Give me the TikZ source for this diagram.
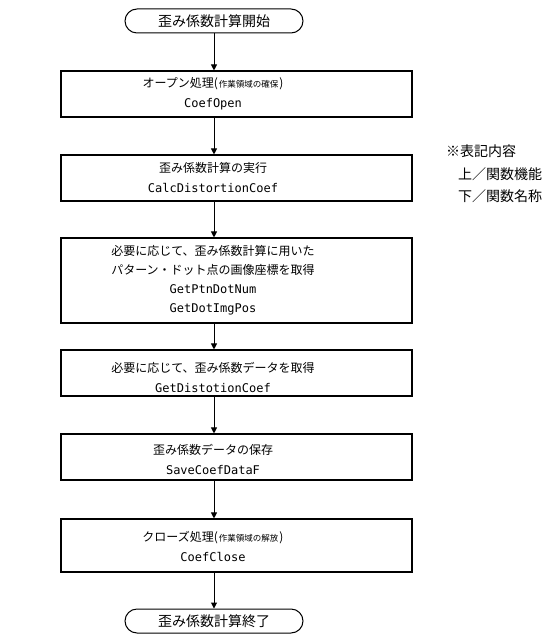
\documentclass[tikz,border=0pt]{standalone}
\usepackage{fontspec}
\setmainfont{Noto Sans CJK JP}
\setmonofont{DejaVu Sans Mono}
\usetikzlibrary{arrows.meta,shapes.misc}
\tikzset{
  term/.style={draw, line width=1pt, rounded rectangle, minimum width=178pt, minimum height=24pt, inner sep=0pt, font=\fontsize{14}{16}\selectfont},
  procbox/.style={draw, line width=1.1pt, rectangle, minimum width=351pt, inner sep=0pt},
  txt/.style={align=center, inner sep=0pt, font=\fontsize{12}{20}\selectfont},
  flow/.style={line width=1pt, -{Triangle[length=6pt,width=6pt]}},
}
\newcommand{\smallp}[1]{(\kern1pt{\fontsize{8.5}{10}\selectfont #1}\kern1pt)}
\newcommand{\code}[1]{{\ttfamily\fontsize{12}{14}\selectfont #1}}
\begin{document}
\begin{tikzpicture}[x=1pt,y=-1pt]
\useasboundingbox (0,0) rectangle (551,644);
\fill[white] (0,0) rectangle (551,644);

\node[term] (s) at (214,21) {歪み係数計算開始};

\node[procbox, minimum height=46pt] (b1) at (236.5,94) {};
\node[txt] (t1) at (213,94) {オープン処理\smallp{作業領域の確保}\\ \code{CoefOpen}};

\node[procbox, minimum height=46pt] (b2) at (236.5,178) {};
\node[txt] (t2) at (213,178) {歪み係数計算の実行\\ \code{CalcDistortionCoef}};

\node[procbox, minimum height=85pt] (b3) at (236.5,280.5) {};
\node[txt, font=\fontsize{12}{19}\selectfont] (t3) at (213,280) {必要に応じて、歪み係数計算に用いた\\ パターン・ドット点の画像座標を取得\\ \code{GetPtnDotNum}\\ \code{GetDotImgPos}};

\node[procbox, minimum height=46pt] (b4) at (236.5,373) {};
\node[txt] (t4) at (213,377) {必要に応じて、歪み係数データを取得\\ \code{GetDistotionCoef}};

\node[procbox, minimum height=46pt] (b5) at (236.5,457) {};
\node[txt] (t5) at (213,459) {歪み係数データの保存\\ \code{SaveCoefDataF}};

\node[procbox, minimum height=53pt] (b6) at (236.5,545.5) {};
\node[txt] (t6) at (213,546) {クローズ処理\smallp{作業領域の解放}\\ \code{CoefClose}};

\node[term] (e) at (214,621) {歪み係数計算終了};

\draw[flow] (s.south) -- (s.south |- b1.north);
\draw[flow] (s.south |- b1.south) -- (s.south |- b2.north);
\draw[flow] (s.south |- b2.south) -- (s.south |- b3.north);
\draw[flow] (s.south |- b3.south) -- (s.south |- b4.north);
\draw[flow] (s.south |- b4.south) -- (s.south |- b5.north);
\draw[flow] (s.south |- b5.south) -- (s.south |- b6.north);
\draw[flow] (s.south |- b6.south) -- (e.north);

\node[anchor=north west, inner sep=0pt, align=left, font=\fontsize{14}{22.5}\selectfont] (note) at (446,145) {※表記内容\\ \hspace{12pt}上／関数機能\\ \hspace{12pt}下／関数名称};
\end{tikzpicture}
\end{document}
